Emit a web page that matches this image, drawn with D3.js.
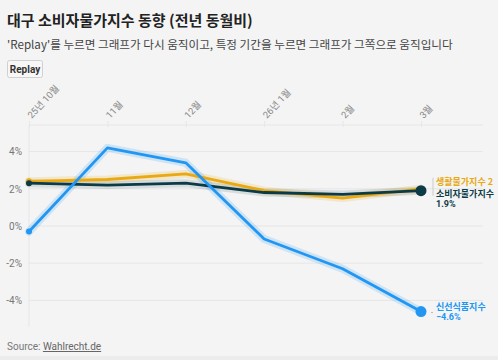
<!DOCTYPE html>
<html><head><meta charset="utf-8">
<script src="https://cdn.jsdelivr.net/npm/d3@7"></script>
<style>
html,body{margin:0;padding:0;background:#f4f4f4;}
body{width:498px;height:360px;overflow:hidden;font-family:"Noto Sans CJK KR","Noto Sans",sans-serif;}
</style></head><body>
<svg id="c" width="498" height="360"></svg>
<script>
const months = ["25년 10월","11월","12월","26년 1월","2월","3월"];
const consumer = [2.3, 2.2, 2.3, 1.8, 1.7, 1.9];
const living = [2.4, 2.5, 2.8, 1.9, 1.5, 2.0];
const fresh = [-0.3, 4.2, 3.4, -0.7, -2.3, -4.6];
const yTicks = [4, 2, 0, -2, -4];
const yTickLabels = ["4%","2%","0%","-2%","-4%"];

const svg = d3.select("#c");
const W=498,H=360;
svg.append("rect").attr("width",W).attr("height",H).attr("fill","#f4f4f4");
svg.append("rect").attr("y",356).attr("width",W).attr("height",4).attr("fill","#ececec");

svg.append("text").attr("x",7).attr("y",26).attr("font-size",15).attr("font-weight",700)
  .attr("fill","#222").text("대구 소비자물가지수 동향 (전년 동월비)");
svg.append("text").attr("x",7).attr("y",49).attr("font-size",11.6).attr("fill","#444")
  .text("'Replay'를 누르면 그래프가 다시 움직이고, 특정 기간을 누르면 그래프가 그쪽으로 움직입니다");
const btn = svg.append("g");
btn.append("rect").attr("x",7.5).attr("y",60.5).attr("width",35).attr("height",17).attr("rx",2)
  .attr("fill","#f7f7f7").attr("stroke","#d0d0d0");
btn.append("text").attr("x",25).attr("y",73).attr("text-anchor","middle").attr("font-size",10)
  .attr("font-weight",700).attr("fill","#333").attr("font-family","Roboto, sans-serif").text("Replay");

const x = d3.scalePoint().domain(months).range([29,421]);
const y = d3.scaleLinear().domain([-5.43,5.43]).range([327,125]);

const g = svg.append("g");
g.selectAll("line.grid").data([5.43].concat(yTicks)).enter().append("line")
  .attr("x1",29).attr("x2",483).attr("y1",d=>y(d)).attr("y2",d=>y(d))
  .attr("stroke","#e6e6e6").attr("stroke-width",1);
g.append("line").attr("x1",29).attr("x2",29).attr("y1",125).attr("y2",327).attr("stroke","#e6e6e6");

const yAxis = d3.axisLeft(y).tickValues(yTicks).tickFormat((d,i)=>yTickLabels[i]).tickSize(0).tickPadding(7);
const ya = svg.append("g").attr("transform","translate(29,0)").call(yAxis);
ya.select(".domain").remove();
ya.selectAll("text").attr("font-size",10).attr("fill","#777").attr("font-family","Roboto, sans-serif");

const xAxis = d3.axisTop(x).tickSize(0).tickPadding(0);
const xa = svg.append("g").attr("transform","translate(0,117)").call(xAxis);
xa.select(".domain").remove();
xa.selectAll(".tick line").remove();
xa.selectAll("text").attr("font-size",9.5).attr("fill","#888").attr("text-anchor","start")
  .attr("transform","rotate(-47)").attr("dx",0).attr("dy",3).attr("font-family","Roboto, 'Noto Sans CJK KR', sans-serif");
xa.selectAll(".tick").append("line").attr("y1",4).attr("y2",10).attr("stroke","#e6e6e6");

const line = d3.line().x((d,i)=>x(months[i])).y(d=>y(d));
const series = [
  {v:living,c:"#e8a912",halo:"rgba(232,169,18,0.18)"},
  {v:consumer,c:"#0c3b47",halo:"rgba(12,59,71,0.12)"},
  {v:fresh,c:"#2196f3",halo:"rgba(33,150,243,0.18)"}
];
series.forEach(s=>{
  g.append("path").datum(s.v).attr("d",line).attr("fill","none").attr("stroke",s.halo)
    .attr("stroke-width",8).attr("stroke-linejoin","round").attr("stroke-linecap","round");
});
series.forEach(s=>{
  g.append("path").datum(s.v).attr("d",line).attr("fill","none").attr("stroke",s.c)
    .attr("stroke-width",2.8).attr("stroke-linejoin","round");
  g.append("circle").attr("cx",x(months[0])).attr("cy",y(s.v[0])).attr("r",3).attr("fill",s.c);
});
g.append("circle").attr("cx",x(months[5])).attr("cy",y(consumer[5])).attr("r",5.5).attr("fill","#0c3b47");
g.append("circle").attr("cx",x(months[5])).attr("cy",y(fresh[5])).attr("r",5.5).attr("fill","#2196f3");

const lx = 436, fs = 9;
g.append("line").attr("x1",433).attr("x2",433).attr("y1",y(living[5])-11).attr("y2",y(consumer[5])+5).attr("stroke","#ccc");
g.append("text").attr("x",lx).attr("y",y(living[5])-4).attr("font-size",fs).attr("font-weight",700)
  .attr("fill","#e8a912").text("생활물가지수 2");
g.append("text").attr("x",lx).attr("y",y(consumer[5])+6.5).attr("font-size",fs).attr("font-weight",700)
  .attr("fill","#0c3b47").text("소비자물가지수");
g.append("text").attr("x",lx).attr("y",y(consumer[5])+16).attr("font-size",fs).attr("font-weight",700)
  .attr("fill","#0c3b47").attr("font-family","Roboto, sans-serif").text(d3.format(".1f")(consumer[5])+"%");
g.append("line").attr("x1",431).attr("x2",433).attr("y1",y(fresh[5])+1).attr("y2",y(fresh[5])+1).attr("stroke","#bbb");
g.append("text").attr("x",lx).attr("y",y(fresh[5])-1.5).attr("font-size",fs).attr("font-weight",700)
  .attr("fill","#2196f3").text("신선식품지수");
g.append("text").attr("x",lx).attr("y",y(fresh[5])+8.5).attr("font-size",fs).attr("font-weight",700)
  .attr("fill","#2196f3").attr("font-family","Roboto, sans-serif").text(d3.format(".1f")(fresh[5])+"%");

const src = svg.append("text").attr("x",7).attr("y",350).attr("font-size",10).attr("fill","#777")
  .attr("font-family","Roboto, sans-serif");
src.append("tspan").text("Source: ");
src.append("tspan").attr("text-decoration","underline").attr("fill","#666").text("Wahlrecht.de");
</script></body></html>
